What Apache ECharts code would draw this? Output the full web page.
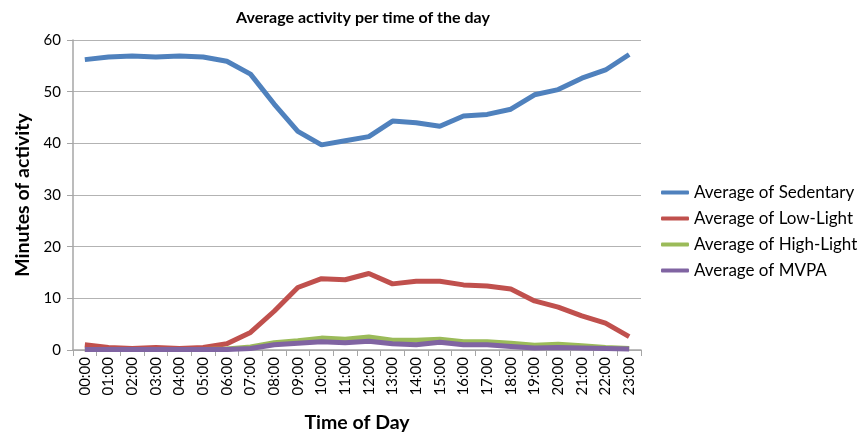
<!DOCTYPE html>
<html>
<head>
<meta charset="utf-8">
<script src="https://cdn.jsdelivr.net/npm/echarts@6/dist/echarts.min.js"></script>
<style>
  html, body { margin: 0; padding: 0; background: #fff; }
  #chart { width: 867px; height: 435px; }
</style>
</head>
<body>
<div id="chart"></div>
<script>
// 数据
var hours = ['00:00', '01:00', '02:00', '03:00', '04:00', '05:00', '06:00', '07:00',
  '08:00', '09:00', '10:00', '11:00', '12:00', '13:00', '14:00', '15:00',
  '16:00', '17:00', '18:00', '19:00', '20:00', '21:00', '22:00', '23:00']
var sedentary = [56.2, 56.7, 56.9, 56.7, 56.9, 56.7, 55.9, 53.4, 47.6, 42.3, 39.7, 40.5,
  41.3, 44.3, 44.0, 43.3, 45.3, 45.6, 46.6, 49.4, 50.4, 52.6, 54.2, 57.2]
var lowLight = [1.0, 0.5, 0.3, 0.5, 0.3, 0.5, 1.2, 3.4, 7.5, 12.1, 13.8, 13.6,
  14.8, 12.8, 13.3, 13.3, 12.6, 12.4, 11.8, 9.5, 8.3, 6.6, 5.2, 2.6]
var highLight = [0.1, 0.1, 0.1, 0.1, 0.1, 0.1, 0.2, 0.6, 1.4, 1.8, 2.3, 2.1,
  2.5, 1.9, 1.9, 2.1, 1.6, 1.6, 1.3, 0.9, 1.1, 0.8, 0.5, 0.3]
var mvpa = [0.1, 0.1, 0.1, 0.1, 0.1, 0.1, 0.1, 0.3, 1.0, 1.3, 1.6, 1.4,
  1.7, 1.2, 1.0, 1.5, 1.0, 1.0, 0.7, 0.4, 0.5, 0.4, 0.3, 0.2]
var yTicks = [0, 10, 20, 30, 40, 50, 60]

var font = 'Lato, "Open Sans", sans-serif'

function line(name, data, color) {
  return {
    name: name,
    type: 'line',
    data: data,
    symbol: 'none',
    lineStyle: { width: 5, color: color },
    itemStyle: { color: color }
  }
}

var myChart = echarts.init(document.getElementById('chart'))
var option = {
  animation: false,
  title: {
    text: 'Average activity per time of the day',
    left: 358,
    top: 5,
    textAlign: 'center',
    textStyle: { fontFamily: font, fontSize: 16, fontWeight: 'bold', color: '#000' }
  },
  legend: {
    orient: 'vertical',
    left: 656,
    top: 179,
    itemGap: 9,
    itemWidth: 28,
    itemHeight: 4,
    icon: 'roundRect',
    textStyle: { fontFamily: font, fontSize: 17, color: '#000' },
    data: ['Average of Sedentary', 'Average of Low-Light', 'Average of High-Light', 'Average of MVPA']
  },
  grid: { left: 73, right: 226, top: 40, bottom: 85, containLabel: false, outerBoundsMode: 'none' },
  xAxis: {
    type: 'category',
    data: hours,
    name: 'Time of Day',
    nameLocation: 'middle',
    nameGap: 63,
    nameTextStyle: { fontFamily: font, fontSize: 19.5, fontWeight: 'bold', color: '#000' },
    axisLine: { lineStyle: { color: '#a6a6a6', width: 1.5 } },
    axisTick: { show: true, length: 6, lineStyle: { color: '#a6a6a6' } },
    axisLabel: { rotate: 90, fontFamily: font, fontSize: 15, color: '#000', margin: 7 }
  },
  yAxis: {
    type: 'value',
    min: yTicks[0],
    max: yTicks[yTicks.length - 1],
    interval: 10,
    name: 'Minutes of activity',
    nameLocation: 'middle',
    nameGap: 39,
    nameTextStyle: { fontFamily: font, fontSize: 19.5, fontWeight: 'bold', color: '#000' },
    axisLine: { show: true, lineStyle: { color: '#a6a6a6', width: 1.5 } },
    axisTick: { show: true, length: 6, lineStyle: { color: '#a6a6a6' } },
    axisLabel: { fontFamily: font, fontSize: 15, color: '#000', margin: 12 },
    splitLine: { lineStyle: { color: '#b3b3b3', width: 1.2 } }
  },
  series: [
    line('Average of Sedentary', sedentary, '#4F81BD'),
    line('Average of Low-Light', lowLight, '#C0504D'),
    line('Average of High-Light', highLight, '#9BBB59'),
    line('Average of MVPA', mvpa, '#8064A2')
  ]
}
myChart.setOption(option)
</script>
</body>
</html>
